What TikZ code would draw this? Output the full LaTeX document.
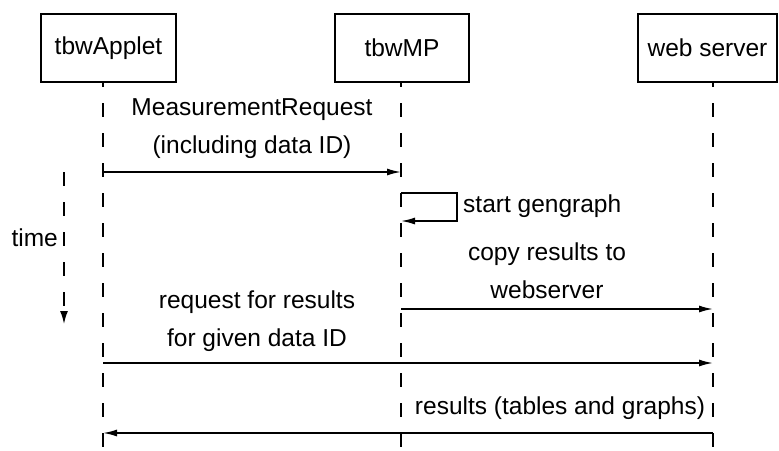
\documentclass[tikz,border=0pt]{standalone}
\usepackage{fontspec}
\setmainfont{Liberation Sans}
\usepackage{tikz}
\usetikzlibrary{positioning, arrows.meta}

\tikzset{
  actor/.style={draw, line width=1.6pt, minimum height=68pt, inner sep=0pt,
                font=\fontsize{24.5}{30}\selectfont},
  lifeline/.style={line width=1.6pt, dash pattern=on 14pt off 16pt, dash phase=9pt},
  msg/.style={line width=1.6pt, -{Latex[length=14pt,width=7pt]}},
  msglabel/.style={font=\fontsize{24.5}{38}\selectfont, align=center, inner sep=0pt},
}

\begin{document}
\begin{tikzpicture}[x=1pt, y=-1pt]
  \useasboundingbox (0,0) rectangle (779,450);

  % the three objects
  \node[actor, minimum width=135pt] (applet) at (108.5,48) {tbwApplet};
  \node[actor, minimum width=134pt] (mp) at (402,48) {tbwMP};
  \node[actor, minimum width=139pt] (web) at (707.5,48) {web server};

  % lifelines
  \coordinate (appl) at (103,82);
  \coordinate (mpl) at (401,82);
  \coordinate (webl) at (713,82);
  \coordinate (applend) at (103,450);
  \coordinate (mplend) at (401,450);
  \coordinate (weblend) at (713,450);
  \draw[lifeline] (appl) -- (applend);
  \draw[lifeline] (mpl) -- (mplend);
  \draw[lifeline] (webl) -- (weblend);

  % time axis
  \coordinate (ttop) at (64,172);
  \coordinate (tbot) at (64,324);
  \draw[lifeline, dash phase=0pt, -{Latex[length=13pt,width=8pt]}] (ttop) -- (tbot);
  \node[msglabel, anchor=east] (time) at (58,238) {time};

  % MeasurementRequest
  \coordinate (m1a) at (103,172);
  \coordinate (m1b) at (401,172);
  \draw[msg] (m1a) -- (m1b);
  \node[msglabel] (m1) at (252,129) {MeasurementRequest\\(including data ID)};

  % start gengraph (self call)
  \coordinate (s1a) at (401,193);
  \coordinate (s1b) at (401,221);
  \draw[msg] (s1a) -- ++(56,0) |- (s1b);
  \node[msglabel, anchor=west] (s1) at (463,206) {start gengraph};

  % copy results to webserver
  \coordinate (m2a) at (401,309);
  \coordinate (m2b) at (713,309);
  \draw[msg] (m2a) -- (m2b);
  \node[msglabel] (m2) at (547,271) {copy results to\\webserver};

  % request for results
  \coordinate (m3a) at (103,363);
  \coordinate (m3b) at (713,363);
  \draw[msg] (m3a) -- (m3b);
  \node[msglabel] (m3) at (257,321) {request for results\\for given data ID};

  % results back to the applet
  \coordinate (m4a) at (713,433);
  \coordinate (m4b) at (103,433);
  \draw[msg] (m4a) -- (m4b);
  \node[msglabel] (m4) at (560,408) {results (tables and graphs)};
\end{tikzpicture}
\end{document}
